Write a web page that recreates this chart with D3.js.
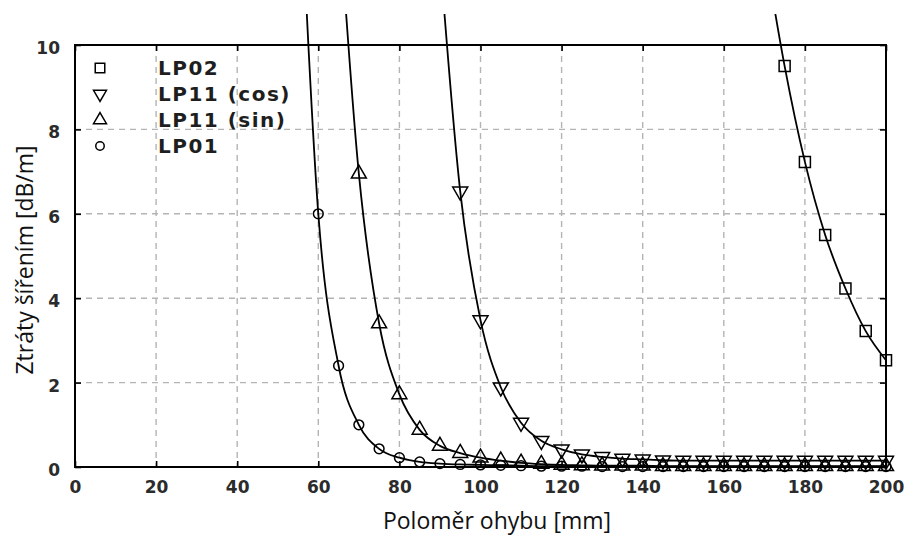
<!DOCTYPE html>
<html>
<head>
<meta charset="utf-8">
<script src="https://cdn.jsdelivr.net/npm/d3@7"></script>
<style>
  body { margin: 0; background: #fff; }
  .tick-label { font-family: "DejaVu Sans", sans-serif; font-weight: bold; font-size: 17px; fill: #2b2b2b; }
  .legend-label { font-family: "DejaVu Sans", sans-serif; font-weight: bold; font-size: 20px; letter-spacing: 1.5px; fill: #1e1e1e; }
  .axis-title { font-family: "Open Sans", sans-serif; font-size: 23px; fill: #111; }
</style>
</head>
<body>
<div id="chart"></div>
<script>
// bend radius [mm], sampled every 5 mm
const radius = [55, 60, 65, 70, 75, 80, 85, 90, 95, 100, 105, 110, 115, 120, 125,
                130, 135, 140, 145, 150, 155, 160, 165, 170, 175, 180, 185, 190, 195, 200];

// propagation loss [dB/m], null where the mode is not plotted
const lp02 = [null, null, null, null, null, null, null, null, null, null, null, null, null, null, null,
              null, null, null, null, null, null, null, null, 12.3, 9.5, 7.23, 5.5, 4.23, 3.22, 2.53];
const lp11cos = [null, null, null, null, null, null, null, 12.1, 6.53, 3.48, 1.89, 1.05, 0.62, 0.42, 0.3,
                 0.24, 0.2, 0.18, 0.16, 0.15, 0.15, 0.15, 0.15, 0.15, 0.15, 0.15, 0.15, 0.15, 0.15, 0.15];
const lp11sin = [null, null, 13.3, 6.95, 3.4, 1.72, 0.88, 0.5, 0.33, 0.22, 0.15, 0.1, 0.07, 0.05, 0.04,
                 0.03, 0.03, 0.03, 0.02, 0.02, 0.02, 0.02, 0.02, 0.02, 0.02, 0.02, 0.02, 0.02, 0.02, 0.02];
const lp01 = [15.1, 6.0, 2.4, 1.0, 0.43, 0.22, 0.12, 0.08, 0.06, 0.05, 0.04, 0.03, 0.02, 0.02, 0.02,
              0.01, 0.01, 0.01, 0.01, 0.01, 0.01, 0.01, 0.01, 0.01, 0.01, 0.01, 0.01, 0.01, 0.01, 0.01];

const seriesNames = ["LP02", "LP11 (cos)", "LP11 (sin)", "LP01"];
const seriesValues = [lp02, lp11cos, lp11sin, lp01];

const xTicks = [0, 20, 40, 60, 80, 100, 120, 140, 160, 180, 200];
const yTicks = [0, 2, 4, 6, 8, 10];

const xTitle = "Poloměr ohybu [mm]";
const yTitle = "Ztráty šířením [dB/m]";

class LossChart {
  constructor(_config) {
    this.config = {
      parentElement: _config.parentElement,
      containerWidth: _config.containerWidth || 907,
      containerHeight: _config.containerHeight || 539,
      margin: _config.margin || {top: 45, right: 21, bottom: 72, left: 75}
    };
    this.initVis();
  }

  initVis() {
    let vis = this;
    vis.width = vis.config.containerWidth - vis.config.margin.left - vis.config.margin.right;
    vis.height = vis.config.containerHeight - vis.config.margin.top - vis.config.margin.bottom;

    vis.svg = d3.select(vis.config.parentElement).append("svg")
        .attr("width", vis.config.containerWidth)
        .attr("height", vis.config.containerHeight);

    vis.chart = vis.svg.append("g")
        .attr("transform", `translate(${vis.config.margin.left},${vis.config.margin.top})`);

    vis.xScale = d3.scaleLinear().domain([0, 200]).range([0, vis.width]);
    vis.yScale = d3.scaleLinear().domain([0, 10]).range([vis.height, 0]);

    // curves run a little past the top of the frame, then get cut off
    vis.svg.append("defs").append("clipPath").attr("id", "clip")
      .append("rect")
        .attr("x", -15).attr("y", 14 - vis.config.margin.top)
        .attr("width", vis.width + 30).attr("height", vis.height + 60);
  }

  renderVis() {
    let vis = this;

    // dashed grid
    vis.chart.append("g").selectAll("line")
        .data(xTicks.slice(1, -1))
      .join("line")
        .attr("x1", d => vis.xScale(d)).attr("x2", d => vis.xScale(d))
        .attr("y1", 0).attr("y2", vis.height)
        .attr("stroke", "#b4b4b4").attr("stroke-width", 1.4).attr("stroke-dasharray", "6,5");
    vis.chart.append("g").selectAll("line")
        .data(yTicks.slice(1, -1))
      .join("line")
        .attr("x1", 0).attr("x2", vis.width)
        .attr("y1", d => vis.yScale(d)).attr("y2", d => vis.yScale(d))
        .attr("stroke", "#b4b4b4").attr("stroke-width", 1.4).attr("stroke-dasharray", "6,5");

    // axes with inward ticks on all four sides
    const xBottom = d3.axisBottom(vis.xScale).tickValues(xTicks).tickSize(-6).tickPadding(14).tickSizeOuter(0);
    const xTop = d3.axisTop(vis.xScale).tickValues(xTicks).tickSize(-6).tickFormat("").tickSizeOuter(0);
    const yLeft = d3.axisLeft(vis.yScale).tickValues(yTicks).tickSize(-6).tickPadding(15).tickSizeOuter(0);
    const yRight = d3.axisRight(vis.yScale).tickValues(yTicks).tickSize(-6).tickFormat("").tickSizeOuter(0);

    const gx = vis.chart.append("g").attr("transform", `translate(0,${vis.height})`).call(xBottom);
    vis.chart.append("g").call(xTop);
    const gy = vis.chart.append("g").call(yLeft);
    vis.chart.append("g").attr("transform", `translate(${vis.width},0)`).call(yRight);

    vis.chart.selectAll(".domain").remove();
    vis.chart.selectAll(".tick line").attr("stroke", "#000").attr("stroke-width", 1.6);
    gx.selectAll("text").attr("class", "tick-label").attr("dy", "0.71em");
    gy.selectAll("text").attr("class", "tick-label").attr("dy", "0.5em");

    vis.chart.append("rect")
        .attr("width", vis.width).attr("height", vis.height)
        .attr("fill", "none").attr("stroke", "#000").attr("stroke-width", 2);

    // curves
    const line = d3.line()
        .defined(d => d.v != null)
        .x(d => vis.xScale(d.r))
        .y(d => vis.yScale(d.v))
        .curve(d3.curveMonotoneX);

    const series = seriesNames.map((name, i) => ({
      name: name,
      points: radius.map((r, j) => ({r: r, v: seriesValues[i][j]})).filter(p => p.v != null)
    }));

    vis.chart.append("g").attr("clip-path", "url(#clip)")
      .selectAll("path")
        .data(series)
      .join("path")
        .attr("d", d => line(d.points))
        .attr("fill", "none").attr("stroke", "#000").attr("stroke-width", 1.8);

    const symbolFor = [
      {type: d3.symbolSquare, size: 121, rot: 0},
      {type: d3.symbolTriangle, size: 97, rot: 180},
      {type: d3.symbolTriangle, size: 97, rot: 0},
      {type: d3.symbolCircle, size: 75, rot: 0}
    ];

    series.forEach((s, i) => {
      const sym = symbolFor[i];
      vis.chart.append("g").selectAll("path")
          .data(s.points.filter(p => p.v <= 10))
        .join("path")
          .attr("d", d3.symbol().type(sym.type).size(sym.size))
          .attr("transform", d => `translate(${vis.xScale(d.r)},${vis.yScale(d.v)}) rotate(${sym.rot})`)
          .attr("fill", "none").attr("stroke", "#000").attr("stroke-width", 1.5);
    });

    // legend
    const legend = vis.svg.append("g").selectAll("g")
        .data(seriesNames)
      .join("g")
        .attr("transform", (d, i) => `translate(100,${68 + i * 26})`);
    legend.append("path")
        .attr("d", (d, i) => d3.symbol().type(symbolFor[i].type).size(symbolFor[i].size * 0.75)())
        .attr("transform", (d, i) => `rotate(${symbolFor[i].rot})`)
        .attr("fill", "none").attr("stroke", "#000").attr("stroke-width", 1.5);
    legend.append("text")
        .attr("class", "legend-label")
        .attr("x", 58).attr("dy", "0.36em")
        .text(d => d);

    // axis titles
    vis.svg.append("text")
        .attr("class", "axis-title")
        .attr("x", 497).attr("y", 529)
        .attr("text-anchor", "middle")
        .text(xTitle);
    vis.svg.append("text")
        .attr("class", "axis-title")
        .attr("transform", "translate(33,260) rotate(-90)")
        .attr("text-anchor", "middle")
        .text(yTitle);
  }
}

const chart = new LossChart({parentElement: "#chart"});
chart.renderVis();
</script>
</body>
</html>
